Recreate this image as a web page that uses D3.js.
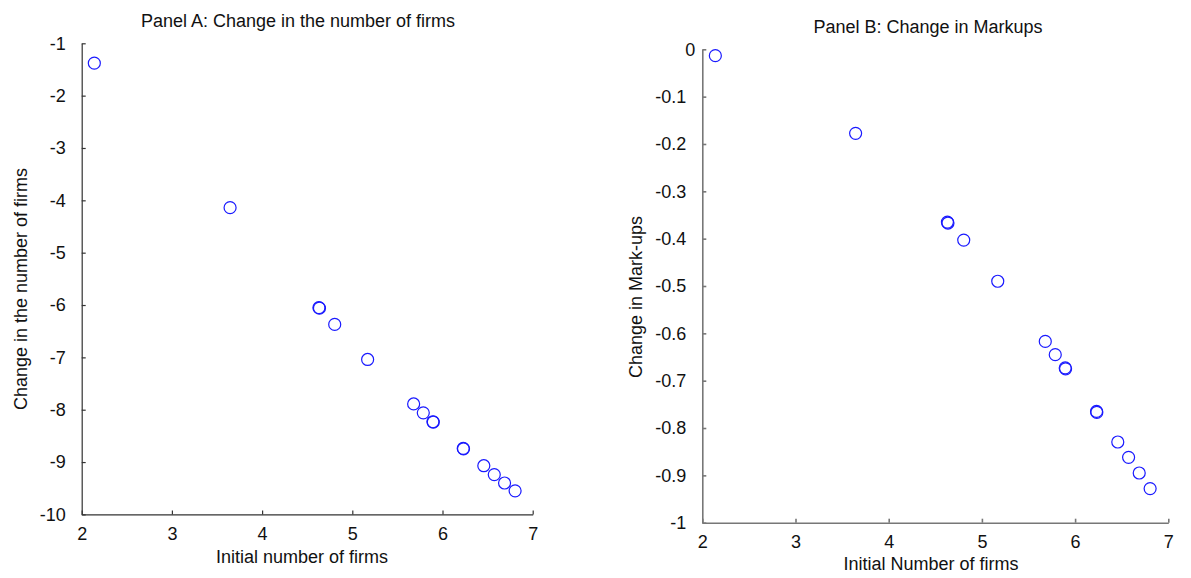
<!DOCTYPE html>
<html>
<head>
<meta charset="utf-8">
<script src="https://cdnjs.cloudflare.com/ajax/libs/d3/7.8.5/d3.min.js"></script>
<style>
  body { margin: 0; background: #fff; }
  svg text { font-family: "Liberation Sans", Arial, sans-serif; fill: #111; }
</style>
</head>
<body>
<svg id="chart" width="1191" height="578"></svg>
<script>
// data (same initial firm counts in both panels)
var initialFirms = [2.14, 3.645, 4.63, 4.636, 4.805, 5.17, 5.68, 5.787, 5.894, 5.898, 6.23, 6.233, 6.458, 6.574, 6.688, 6.805];
var firmsChange  = [-1.38, -4.14, -6.05, -6.06, -6.37, -7.04, -7.89, -8.06, -8.23, -8.237, -8.74, -8.747, -9.07, -9.24, -9.40, -9.55];
var markupChange = [-0.0135, -0.1775, -0.365, -0.367, -0.403, -0.490, -0.617, -0.645, -0.673, -0.675, -0.765, -0.767, -0.8295, -0.862, -0.895, -0.928];

var xTicks  = [2, 3, 4, 5, 6, 7];
var yTicksA = [-10, -9, -8, -7, -6, -5, -4, -3, -2, -1];
var yTicksB = [-1, -0.9, -0.8, -0.7, -0.6, -0.5, -0.4, -0.3, -0.2, -0.1, 0];

var svg = d3.select('#chart');

// plain hyphen minus, like the original
var plain = function(d) { return String(d); };

// draw one panel
var drawPanel = function(opt) {
  var x = d3.scaleLinear().domain([2, 7]).range([opt.left, opt.right]);
  var y = d3.scaleLinear().domain(opt.yDomain).range([opt.bottom, opt.top]);

  var g = svg.append('g');

  var xAxis = g.append('g')
      .attr('transform', 'translate(0,' + opt.bottom + ')')
      .call(d3.axisBottom(x).tickValues(xTicks).tickFormat(plain)
        .tickSizeInner(-4).tickSizeOuter(0).tickPadding(13));

  var yAxis = g.append('g')
      .attr('transform', 'translate(' + opt.left + ',0)')
      .call(d3.axisLeft(y).tickValues(opt.yTicks).tickFormat(plain)
        .tickSizeInner(-4).tickSizeOuter(0).tickPadding(16));

  [xAxis, yAxis].forEach(function(a) {
    a.selectAll('path, line').attr('stroke', opt.axisColor).attr('stroke-width', opt.axisWidth);
    a.selectAll('text').attr('font-size', 18).attr('fill', '#111')
      .attr('font-family', '"Liberation Sans", Arial, sans-serif');
  });

  // the zero label sits closer to the axis in the original
  yAxis.selectAll('.tick text').filter(function(d) { return d === 0; })
      .attr('dx', 9);

  g.append('text')
      .attr('x', opt.titleX)
      .attr('y', opt.titleY)
      .attr('text-anchor', 'middle')
      .attr('font-size', 18)
      .text(opt.title);

  g.append('text')
      .attr('x', opt.xLabelX)
      .attr('y', opt.xLabelY)
      .attr('text-anchor', 'middle')
      .attr('font-size', 18)
      .text(opt.xLabel);

  g.append('text')
      .attr('transform', 'translate(' + opt.yLabelX + ',' + opt.yLabelY + ') rotate(-90)')
      .attr('text-anchor', 'middle')
      .attr('font-size', 18)
      .text(opt.yLabel);

  g.selectAll('circle')
      .data(opt.values)
    .enter().append('circle')
      .attr('cx', function(d, i) { return x(initialFirms[i]); })
      .attr('cy', function(d) { return y(d); })
      .attr('r', 6)
      .attr('fill', 'none')
      .attr('stroke', '#1a1aff')
      .attr('stroke-width', 1.2);
};

drawPanel({
  left: 81.7, right: 532.7, top: 43.3, bottom: 514.4,
  yDomain: [-10, -1], yTicks: yTicksA,
  values: firmsChange,
  axisColor: '#333', axisWidth: 1.2,
  title: 'Panel A: Change in the number of firms', titleX: 298, titleY: 27,
  xLabel: 'Initial number of firms', xLabelX: 302, xLabelY: 563,
  yLabel: 'Change in the number of firms', yLabelX: 27, yLabelY: 289
});

drawPanel({
  left: 702.3, right: 1168.3, top: 49.3, bottom: 522.7,
  yDomain: [-1, 0], yTicks: yTicksB,
  values: markupChange,
  axisColor: '#777', axisWidth: 1.6,
  title: 'Panel B: Change in Markups', titleX: 928, titleY: 33,
  xLabel: 'Initial Number of firms', xLabelX: 931, xLabelY: 570,
  yLabel: 'Change in Mark-ups', yLabelX: 642, yLabelY: 297
});
</script>
</body>
</html>
